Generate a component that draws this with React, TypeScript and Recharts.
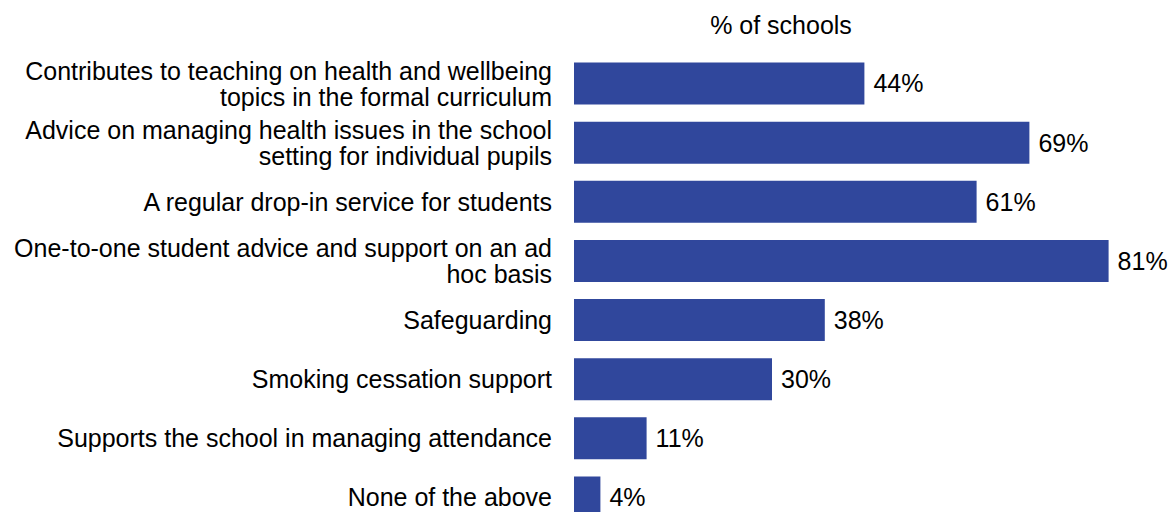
import { BarChart, Bar, XAxis, YAxis, LabelList } from "recharts";

// Services provided, share of schools (%)
const services = [
  "Contributes to teaching on health and wellbeing\ntopics in the formal curriculum",
  "Advice on managing health issues in the school\nsetting for individual pupils",
  "A regular drop-in service for students",
  "One-to-one student advice and support on an ad\nhoc basis",
  "Safeguarding",
  "Smoking cessation support",
  "Supports the school in managing attendance",
  "None of the above",
];
const shares = [44, 69, 61, 81, 38, 30, 11, 4];

const rows = services.map((name, i) => ({ name, value: shares[i] }));

const FONT = "'Liberation Sans', Arial, sans-serif";
const BAR = "#30479C";
const FS = 25;

function CategoryTick({ x, y, payload }: any) {
  const lines: string[] = String(payload.value).split("\n");
  const lh = 26;
  const y0 = y - ((lines.length - 1) * lh) / 2;
  return (
    <text
      x={x}
      y={y0}
      textAnchor="end"
      dominantBaseline="central"
      fontFamily={FONT}
      fontSize={FS}
      fill="#000"
    >
      {lines.map((l, i) => (
        <tspan key={i} x={x} y={y0 + i * lh} dominantBaseline="central">
          {l}
        </tspan>
      ))}
    </text>
  );
}

export default function App() {
  return (
    <div style={{ position: "absolute", left: 0, top: 0, width: 1168, height: 512, overflow: "hidden", background: "#fff" }}>
      <div
        style={{
          position: "absolute",
          left: 681,
          top: 10,
          width: 200,
          textAlign: "center",
          fontFamily: FONT,
          fontSize: FS,
          lineHeight: "30px",
          color: "#000",
          whiteSpace: "nowrap",
        }}
      >
        % of schools
      </div>
      <BarChart
        width={1240}
        height={540}
        data={rows}
        layout="vertical"
        margin={{ top: 54, right: 6, bottom: 13, left: 0 }}
        barCategoryGap="14.4%"
      >
        <XAxis type="number" domain={[0, 100]} hide />
        <YAxis
          type="category"
          dataKey="name"
          width={574}
          axisLine={false}
          tickLine={false}
          tickMargin={16}
          tick={<CategoryTick />}
          interval={0}
        />
        <Bar dataKey="value" fill={BAR} isAnimationActive={false}>
          <LabelList
            dataKey="value"
            position="right"
            offset={9}
            formatter={(v: any) => `${v}%`}
            style={{ fontFamily: FONT, fontSize: FS, fill: "#000" }}
          />
        </Bar>
      </BarChart>
    </div>
  );
}
